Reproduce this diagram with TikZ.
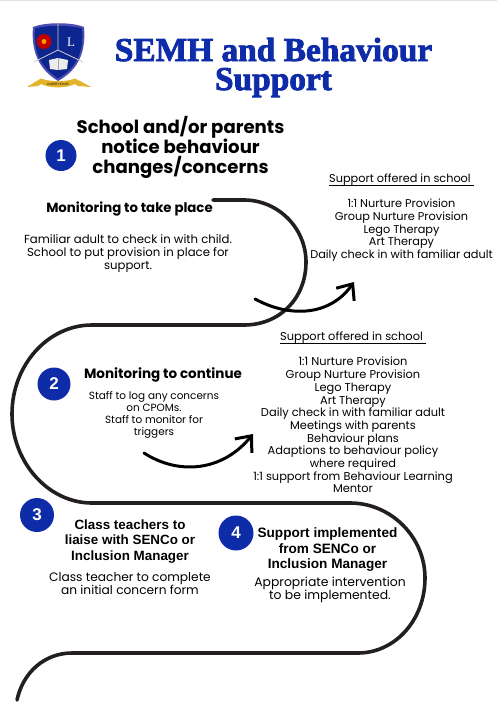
\documentclass[tikz,border=0pt]{standalone}
\usepackage{fontspec}
\setmainfont{Poppins}
\newfontfamily\titlefont[BoldFeatures={FakeBold=2.5}]{Liberation Serif}
\newfontfamily\headfont{Liberation Sans}
\usepackage{tikz}
\usetikzlibrary{positioning, arrows.meta}
\definecolor{semhblue}{HTML}{0F2CA8}
\definecolor{pathblack}{HTML}{231F20}
\definecolor{crestgold}{HTML}{E3B32A}
\tikzstyle{arrow} = [line width=3pt, line cap=round, black, -{Straight Barb[length=13pt,width=22pt,line width=3pt]}]
\newcommand{\supporthead}{\underline{\smash{Support offered in school\ }\rule[-1.2pt]{0pt}{1pt}}}

\begin{document}
\begin{tikzpicture}[x=1pt, y=-1pt,
    numdot/.style={circle, fill=semhblue, text=white, inner sep=0pt, minimum size=#1, font=\fontsize{17}{17}\selectfont\headfont\bfseries},
    heading/.style={align=center, inner sep=0pt, font=\fontsize{#1}{20}\selectfont\bfseries},
    subhead/.style={align=center, inner sep=0pt, font=\fontsize{#1}{15.5}\selectfont\headfont\bfseries},
    body/.style={align=center, inner sep=0pt, font=\fontsize{#1}{12.7}\selectfont},
    roadpath/.style={draw=pathblack, line width=3.6pt, line cap=round}]
    \useasboundingbox (0,0) rectangle (497,710);
    \fill[gray!25] (0,0) rectangle (497,1);

    % Crest
    \fill[gray!60!blue] (33,27) .. controls (45,22) and (72,22) .. (84,27) .. controls (86,50) and (80,69) .. (58,81) .. controls (38,69) and (31,50) .. (33,27) -- cycle;
    \fill[semhblue!85!black] (35,28.5) .. controls (46,25) and (70,25) .. (82,28.5) .. controls (84,50) and (78,67) .. (58,78.5) .. controls (40,67) and (33,50) .. (35,28.5) -- cycle;
    \draw[gray!40, line width=0.8pt] (58,24) -- (58,50) -- (34,62) (58,50) -- (83,62);
    \fill[red!75!black] (44,41.5) circle (7.5);
    \fill[orange!80!yellow] (44,41.5) circle (2.5);
    \node[text=white, inner sep=0pt, font=\fontsize{13}{13}\selectfont\titlefont] (crestl) at (71,42) {L};
    \fill[gray!15] (49,60) -- (58,58) -- (68,60) -- (67,69) -- (58,70) -- (50,69) -- cycle;
    \draw[gray!70, line width=0.5pt] (58,58) -- (58,70);
    \fill[crestgold] (27,87) -- (35,82) -- (41,78.5) .. controls (50,82) and (66,82) .. (75,78.5) -- (82,82) -- (91,87) -- (78,86) -- (75,84) .. controls (66,88.5) and (50,88.5) .. (41,84) -- (38,86) -- cycle;
    \node[inner sep=0pt, font=\fontsize{3.2}{3.2}\selectfont] (crestmotto) at (58,84.5) {LOWER HOUSE};

    % Title
    \node[inner sep=0pt, text=semhblue, font=\fontsize{33.4}{29}\selectfont\titlefont\bfseries, align=center] (title) at (273.5,67.5) {SEMH and Behaviour\\Support};

    % Road
    \coordinate (r0) at (213,200);
    \draw[roadpath] (r0) -- (244,200) .. controls (278,200) and (306,228) .. (306,262)
        .. controls (306,298) and (280,325) .. (244,325) -- (92,325)
        .. controls (48,325) and (12,365) .. (12,414)
        .. controls (12,462) and (48,503) .. (92,503) -- (350,503)
        .. controls (391,503) and (425,537) .. (425,578)
        .. controls (425,620) and (395,653) .. (358,653) -- (72,653)
        .. controls (45,653) and (23,672) .. (17,700);

    % Steps
    \node[numdot=31pt] (n1) at (61,155.5) {1};
    \node[heading=18.1] (h1) at (180.5,147) {School and/or parents\\notice behaviour\\changes/concerns};
    \node[heading=13.3] (h1b) at (129.5,209) {Monitoring to take place};
    \node[body=11.7, font=\fontsize{11.7}{13}\selectfont] (b1) at (128,253.5) {Familiar adult to check in with child.\\School to put provision in place for\\support.};
    \node[body=11.3] (s1) at (401.5,222) {\supporthead\\[12.3pt]1:1 Nurture Provision\\Group Nurture Provision\\Lego Therapy\\Art Therapy\\Daily check in with familiar adult};

    \node[numdot=33pt] (n2) at (54,384) {2};
    \node[heading=13.5] (h2) at (163,375) {Monitoring to continue};
    \node[body=10.45, font=\fontsize{10.45}{11.8}\selectfont] (b2) at (154,415) {Staff to log any concerns\\on CPOMs.\\Staff to monitor for\\triggers};
    \node[body=11.4] (s2) at (353,417) {\supporthead\\[12.3pt]1:1 Nurture Provision\\Group Nurture Provision\\Lego Therapy\\Art Therapy\\Daily check in with familiar adult\\Meetings with parents\\Behaviour plans\\Adaptions to behaviour policy\\where required\\1:1 support from Behaviour Learning\\Mentor};

    \node[numdot=34pt] (n3) at (37,515) {3};
    \node[subhead=13.4] (h3) at (130,541.5) {Class teachers to\\liaise with SENCo or\\Inclusion Manager};
    \node[body=12.2, font=\fontsize{12.2}{13}\selectfont] (b3) at (130,584) {Class teacher to complete\\an initial concern form};

    \node[numdot=35pt] (n4) at (236,533) {4};
    \node[subhead=13.6] (h4) at (327.5,550) {Support implemented\\from SENCo or\\Inclusion Manager};
    \node[body=12.4, font=\fontsize{12.4}{13}\selectfont] (b4) at (330,590) {Appropriate intervention\\to be implemented.};

    % Arrows
    \coordinate (a1s) at (255,299);
    \coordinate (a1e) at (354,282);
    \coordinate (a2s) at (144,453);
    \coordinate (a2e) at (253,434);
    \draw[arrow] (a1s) .. controls (290,318) and (330,316) .. (a1e);
    \draw[arrow] (a2s) .. controls (178,475) and (222,472) .. (a2e);
\end{tikzpicture}
\end{document}
